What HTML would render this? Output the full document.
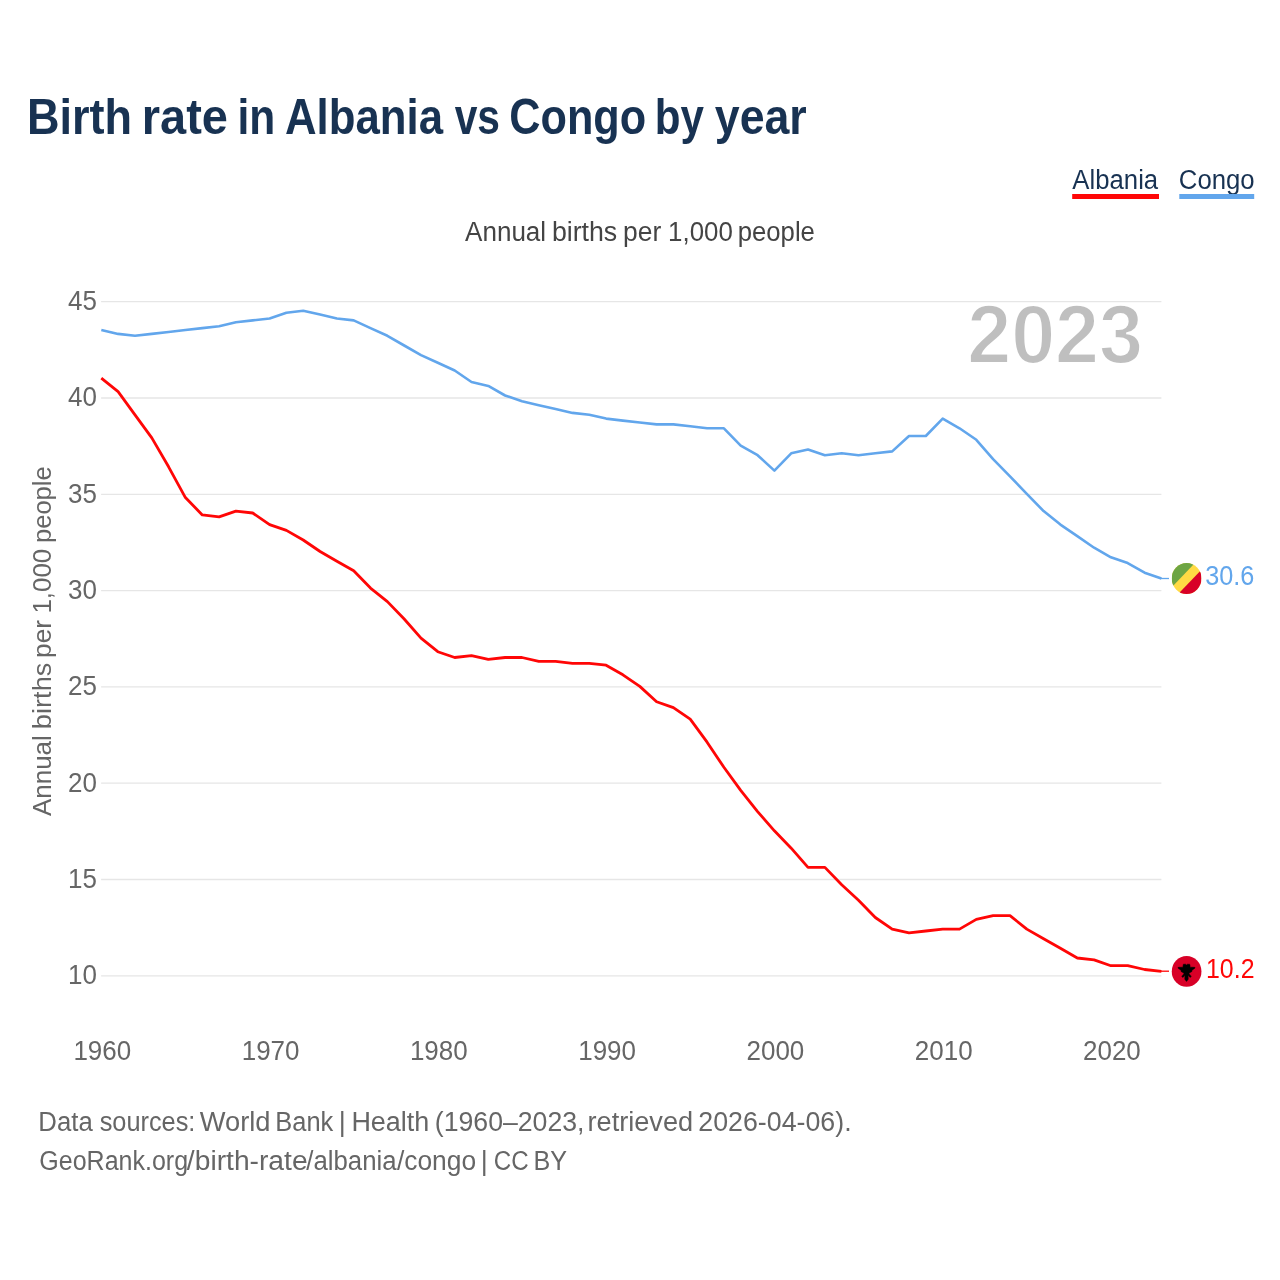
<!DOCTYPE html>
<html lang="en"><head><meta charset="utf-8"><title>Birth rate in Albania vs Congo by year</title>
<style>html,body{margin:0;padding:0;background:#fff}svg{display:block}text{font-family:"Liberation Sans",sans-serif}</style></head><body>
<svg width="1280" height="1280" viewBox="0 0 1280 1280">
<rect width="1280" height="1280" fill="#fff"/>
<g id="title"><text y="134" font-size="50" font-weight="bold" fill="#183252"><tspan x="27.02" textLength="105.11" lengthAdjust="spacingAndGlyphs">Birth</tspan> <tspan x="141.82" textLength="86.20" lengthAdjust="spacingAndGlyphs">rate</tspan> <tspan x="237.41" textLength="37.80" lengthAdjust="spacingAndGlyphs">in</tspan> <tspan x="285.01" textLength="158.08" lengthAdjust="spacingAndGlyphs">Albania</tspan> <tspan x="454.64" textLength="45.33" lengthAdjust="spacingAndGlyphs">vs</tspan> <tspan x="509.32" textLength="136.89" lengthAdjust="spacingAndGlyphs">Congo</tspan> <tspan x="654.77" textLength="49.20" lengthAdjust="spacingAndGlyphs">by</tspan> <tspan x="714.77" textLength="91.99" lengthAdjust="spacingAndGlyphs">year</tspan></text></g>
<g id="legend"><text y="189" font-size="27" fill="#183252"><tspan x="1072.37" textLength="85.80" lengthAdjust="spacingAndGlyphs">Albania</tspan></text>
<rect x="1072.2" y="194" width="86.8" height="5" fill="#ff0606"/>
<text y="189" font-size="27" fill="#183252"><tspan x="1178.87" textLength="75.84" lengthAdjust="spacingAndGlyphs">Congo</tspan></text>
<rect x="1179.3" y="194" width="74.9" height="5" fill="#62a6ec"/></g>
<g id="subtitle"><text y="240.8" font-size="27" fill="#444444"><tspan x="465.09" textLength="81.03" lengthAdjust="spacingAndGlyphs">Annual</tspan> <tspan x="551.88" textLength="65.37" lengthAdjust="spacingAndGlyphs">births</tspan> <tspan x="623.02" textLength="38.20" lengthAdjust="spacingAndGlyphs">per</tspan> <tspan x="668.05" textLength="64.77" lengthAdjust="spacingAndGlyphs">1,000</tspan> <tspan x="737.72" textLength="77.17" lengthAdjust="spacingAndGlyphs">people</tspan></text></g>
<g id="yaxis">
<line x1="101.1" x2="1161.4" y1="975.8" y2="975.8" stroke="#e6e6e6" stroke-width="1.3"/>
<text x="97" y="984.1" font-size="27" fill="#666666" text-anchor="end" textLength="28.9" lengthAdjust="spacingAndGlyphs">10</text>
<line x1="101.1" x2="1161.4" y1="879.5" y2="879.5" stroke="#e6e6e6" stroke-width="1.3"/>
<text x="97" y="887.8" font-size="27" fill="#666666" text-anchor="end" textLength="28.9" lengthAdjust="spacingAndGlyphs">15</text>
<line x1="101.1" x2="1161.4" y1="783.2" y2="783.2" stroke="#e6e6e6" stroke-width="1.3"/>
<text x="97" y="791.5" font-size="27" fill="#666666" text-anchor="end" textLength="28.9" lengthAdjust="spacingAndGlyphs">20</text>
<line x1="101.1" x2="1161.4" y1="686.9" y2="686.9" stroke="#e6e6e6" stroke-width="1.3"/>
<text x="97" y="695.2" font-size="27" fill="#666666" text-anchor="end" textLength="28.9" lengthAdjust="spacingAndGlyphs">25</text>
<line x1="101.1" x2="1161.4" y1="590.6" y2="590.6" stroke="#e6e6e6" stroke-width="1.3"/>
<text x="97" y="598.9" font-size="27" fill="#666666" text-anchor="end" textLength="28.9" lengthAdjust="spacingAndGlyphs">30</text>
<line x1="101.1" x2="1161.4" y1="494.3" y2="494.3" stroke="#e6e6e6" stroke-width="1.3"/>
<text x="97" y="502.6" font-size="27" fill="#666666" text-anchor="end" textLength="28.9" lengthAdjust="spacingAndGlyphs">35</text>
<line x1="101.1" x2="1161.4" y1="398.0" y2="398.0" stroke="#e6e6e6" stroke-width="1.3"/>
<text x="97" y="406.3" font-size="27" fill="#666666" text-anchor="end" textLength="28.9" lengthAdjust="spacingAndGlyphs">40</text>
<line x1="101.1" x2="1161.4" y1="301.6" y2="301.6" stroke="#e6e6e6" stroke-width="1.3"/>
<text x="97" y="309.9" font-size="27" fill="#666666" text-anchor="end" textLength="28.9" lengthAdjust="spacingAndGlyphs">45</text>
</g><g id="xaxis">
<text x="102.3" y="1060.4" font-size="27" fill="#666666" text-anchor="middle" textLength="57.8" lengthAdjust="spacingAndGlyphs">1960</text>
<text x="270.6" y="1060.4" font-size="27" fill="#666666" text-anchor="middle" textLength="57.8" lengthAdjust="spacingAndGlyphs">1970</text>
<text x="438.8" y="1060.4" font-size="27" fill="#666666" text-anchor="middle" textLength="57.8" lengthAdjust="spacingAndGlyphs">1980</text>
<text x="607.1" y="1060.4" font-size="27" fill="#666666" text-anchor="middle" textLength="57.8" lengthAdjust="spacingAndGlyphs">1990</text>
<text x="775.4" y="1060.4" font-size="27" fill="#666666" text-anchor="middle" textLength="57.8" lengthAdjust="spacingAndGlyphs">2000</text>
<text x="943.7" y="1060.4" font-size="27" fill="#666666" text-anchor="middle" textLength="57.8" lengthAdjust="spacingAndGlyphs">2010</text>
<text x="1111.9" y="1060.4" font-size="27" fill="#666666" text-anchor="middle" textLength="57.8" lengthAdjust="spacingAndGlyphs">2020</text>
</g>
<g id="ylabel"><text transform="translate(51.3,900) rotate(-90)" y="0" font-size="26.3" fill="#666666"><tspan x="83.96" textLength="80.88" lengthAdjust="spacingAndGlyphs">Annual</tspan> <tspan x="170.89" textLength="66.51" lengthAdjust="spacingAndGlyphs">births</tspan> <tspan x="242.12" textLength="38.03" lengthAdjust="spacingAndGlyphs">per</tspan> <tspan x="286.39" textLength="64.92" lengthAdjust="spacingAndGlyphs">1,000</tspan> <tspan x="356.90" textLength="76.91" lengthAdjust="spacingAndGlyphs">people</tspan></text></g>
<text y="363.1" font-size="83" font-weight="bold" fill="#bfbfbf" stroke="#fff" stroke-width="1.9"><tspan x="967.17" textLength="175.91" lengthAdjust="spacingAndGlyphs">2023</tspan></text>
<path d="M101.3,330.5L118.1,334.4L135.0,336.3L151.8,334.4L168.6,332.5L185.4,330.5L202.3,328.6L219.1,326.7L235.9,322.8L252.7,320.9L269.6,319.0L286.4,313.2L303.2,311.3L320.1,315.1L336.9,319.0L353.7,320.9L370.5,328.6L387.4,336.3L404.2,346.0L421.0,355.6L437.8,363.3L454.7,371.0L471.5,382.5L488.3,386.4L505.1,396.0L522.0,401.8L538.8,405.7L555.6,409.5L572.5,413.4L589.3,415.3L606.1,419.1L622.9,421.1L639.8,423.0L656.6,424.9L673.4,424.9L690.2,426.8L707.1,428.8L723.9,428.8L740.7,446.1L757.6,455.7L774.4,471.1L791.2,453.8L808.0,450.0L824.9,455.7L841.7,453.8L858.5,455.7L875.3,453.8L892.2,451.9L909.0,436.5L925.8,436.5L942.7,419.1L959.5,428.8L976.3,440.3L993.1,459.6L1010.0,476.9L1026.8,494.3L1043.6,511.6L1060.4,525.1L1077.3,536.6L1094.1,548.2L1110.9,557.8L1127.7,563.6L1144.6,573.2L1161.4,579.0" transform="translate(0,-0.5)" fill="none" stroke="#62a6ec" stroke-width="2.6" stroke-linejoin="round" stroke-linecap="butt"/>
<path d="M101.3,378.7L118.1,392.2L135.0,415.3L151.8,438.4L168.6,467.3L185.4,498.1L202.3,515.4L219.1,517.4L235.9,511.6L252.7,513.5L269.6,525.1L286.4,530.9L303.2,540.5L320.1,552.0L336.9,561.7L353.7,571.3L370.5,588.6L387.4,602.1L404.2,619.5L421.0,638.7L437.8,652.2L454.7,658.0L471.5,656.1L488.3,659.9L505.1,658.0L522.0,658.0L538.8,661.8L555.6,661.8L572.5,663.8L589.3,663.8L606.1,665.7L622.9,675.3L639.8,686.9L656.6,702.3L673.4,708.1L690.2,719.6L707.1,742.7L723.9,767.8L740.7,790.9L757.6,812.1L774.4,831.3L791.2,848.7L808.0,867.9L824.9,867.9L841.7,885.3L858.5,900.7L875.3,918.0L892.2,929.6L909.0,933.4L925.8,931.5L942.7,929.6L959.5,929.6L976.3,919.9L993.1,916.1L1010.0,916.1L1026.8,929.6L1043.6,939.2L1060.4,948.8L1077.3,958.5L1094.1,960.4L1110.9,966.2L1127.7,966.2L1144.6,970.0L1161.4,971.9" transform="translate(0,-0.5)" fill="none" stroke="#ff0606" stroke-width="2.8" stroke-linejoin="round" stroke-linecap="butt"/>
<line x1="1161" x2="1169" y1="578.5" y2="578.5" stroke="#62a6ec" stroke-width="1.3"/>
<line x1="1161" x2="1169" y1="971.2" y2="971.2" stroke="#ff0606" stroke-width="1.3"/>
<defs><clipPath id="cg"><circle cx="256" cy="256" r="256"/></clipPath></defs>
<g transform="translate(1171.75,563.01) scale(0.05801,0.06055)"><g clip-path="url(#cg)"><path fill="#ffda44" d="M0 0H512V512H0Z"/><path fill="#d80027" d="M512 110V512H110Z"/><path fill="#6da544" d="M400 0H0V400Z"/></g></g>
<ellipse cx="1186.6" cy="971.4" rx="14.85" ry="15.4" fill="#d80027"/>
<path transform="translate(1186.50,971.43)" d="M-3.3,-6.9 L-2.9,-7.2 L-0.9,-7.2 L0,-6.4 L0.9,-7.2 L2.9,-7.2 L3.5,-6.8 L3.5,-4.3 L8.25,-4.1 L8.5,-3.7 L8.1,-3.0 L5.5,-1.3 L5.3,0.2 L3.5,0.95 L2.5,2.2 L4.8,4.95 L3.5,6.0 L1.5,3.7 L1.75,7.7 L0,10.0 L-1.75,7.7 L-1.5,3.7 L-3.5,6.0 L-4.8,4.95 L-2.5,2.2 L-3.5,0.95 L-5.3,0.2 L-5.5,-1.3 L-8.1,-3.0 L-8.5,-3.7 L-8.25,-4.1 L-3.5,-4.3 Z" fill="#000" stroke="#000" stroke-width="0.5" stroke-linejoin="round"/>
<text y="585.1" font-size="27" fill="#62a6ec"><tspan x="1205.20" textLength="49.19" lengthAdjust="spacingAndGlyphs">30.6</tspan></text><text y="977.9" font-size="27" fill="#ff0606"><tspan x="1206.02" textLength="48.48" lengthAdjust="spacingAndGlyphs">10.2</tspan></text>
<g id="footer"><text y="1131.2" font-size="27" fill="#666666"><tspan x="38.33" textLength="54.39" lengthAdjust="spacingAndGlyphs">Data</tspan> <tspan x="99.65" textLength="95.74" lengthAdjust="spacingAndGlyphs">sources:</tspan> <tspan x="199.77" textLength="70.76" lengthAdjust="spacingAndGlyphs">World</tspan> <tspan x="275.32" textLength="58.01" lengthAdjust="spacingAndGlyphs">Bank</tspan> <tspan x="338.87" textLength="7.02" lengthAdjust="spacingAndGlyphs">|</tspan> <tspan x="351.38" textLength="77.91" lengthAdjust="spacingAndGlyphs">Health</tspan> <tspan x="434.75" textLength="149.78" lengthAdjust="spacingAndGlyphs">(1960–2023,</tspan> <tspan x="587.49" textLength="105.66" lengthAdjust="spacingAndGlyphs">retrieved</tspan> <tspan x="698.34" textLength="153.26" lengthAdjust="spacingAndGlyphs">2026-04-06).</tspan></text>
<text y="1170" font-size="27" fill="#666666"><tspan x="39.32" textLength="148.74" lengthAdjust="spacingAndGlyphs">GeoRank.org</tspan><tspan x="186.86" textLength="120.73" lengthAdjust="spacingAndGlyphs">/birth-rate</tspan><tspan x="306.30" textLength="90.21" lengthAdjust="spacingAndGlyphs">/albania</tspan><tspan x="396.89" textLength="79.23" lengthAdjust="spacingAndGlyphs">/congo</tspan> <tspan x="480.86" textLength="7.02" lengthAdjust="spacingAndGlyphs">|</tspan> <tspan x="493.82" textLength="34.90" lengthAdjust="spacingAndGlyphs">CC</tspan> <tspan x="533.56" textLength="33.57" lengthAdjust="spacingAndGlyphs">BY</tspan></text></g>
</svg></body></html>
